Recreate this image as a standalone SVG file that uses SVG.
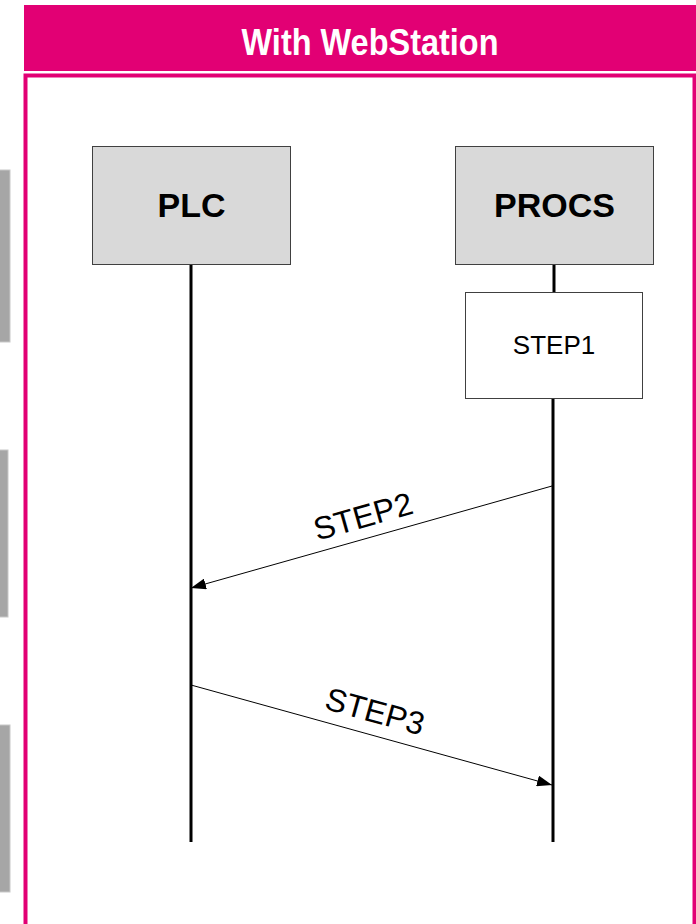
<svg xmlns="http://www.w3.org/2000/svg" width="696" height="924" viewBox="0 0 696 924">
<defs>
<style>
.tab{fill:#a6a6a6;stroke:#c8c8c8;stroke-width:1}
.actor{fill:#d9d9d9;stroke:#404040;stroke-width:1}
.atxt{font-family:"Liberation Sans",Arial,sans-serif;font-weight:bold;font-size:34px;fill:#000;text-anchor:middle}
.life{stroke:#000;stroke-width:3;fill:none}
.msg{stroke:#000;stroke-width:1;fill:none}
.lbl{font-family:"Liberation Sans",Arial,sans-serif;font-size:32px;fill:#000;text-anchor:middle}
</style>
<marker id="ah" viewBox="0 0 15 11" refX="15" refY="5.5" markerWidth="15" markerHeight="11" markerUnits="userSpaceOnUse" orient="auto">
<path d="M0,0 L15,5.5 L0,11 Z" fill="#000"/>
</marker>
</defs>
<rect x="0" y="0" width="696" height="924" fill="#fff"/>
<g id="tabs">
<rect class="tab" x="-1" y="170" width="11" height="172"/>
<rect class="tab" x="-1" y="450" width="9" height="167"/>
<rect class="tab" x="-1" y="725" width="11" height="167"/>
</g>
<g id="header">
<rect x="24" y="5" width="672" height="66" fill="#e20074"/>
<text x="370" y="55" font-family="'Liberation Sans',Arial,sans-serif" font-weight="bold" font-size="36" fill="#fff" text-anchor="middle" textLength="257" lengthAdjust="spacingAndGlyphs">With WebStation</text>
</g>
<rect id="frame" x="25.5" y="75.5" width="669" height="860" fill="none" stroke="#e20074" stroke-width="4"/>
<g id="plc">
<rect class="actor" x="92.5" y="146.5" width="198" height="118"/>
<text class="atxt" x="191.5" y="217">PLC</text>
</g>
<g id="procs">
<rect class="actor" x="455.5" y="146.5" width="198" height="118"/>
<text class="atxt" x="554.5" y="217">PROCS</text>
</g>
<g id="step1">
<rect x="465.5" y="292.5" width="177" height="106" fill="#fff" stroke="#404040" stroke-width="1"/>
<text x="554" y="354" font-family="'Liberation Sans',Arial,sans-serif" font-size="26" fill="#000" text-anchor="middle">STEP1</text>
</g>
<g id="connectors">
<line class="life" x1="191" y1="265" x2="191" y2="842"/>
<line class="life" x1="554" y1="265" x2="554" y2="292"/>
<line class="life" x1="553" y1="399" x2="553" y2="842"/>
<line class="msg" x1="552" y1="486" x2="191" y2="588" marker-end="url(#ah)"/>
<line class="msg" x1="191" y1="685" x2="552" y2="785" marker-end="url(#ah)"/>
<text class="lbl" transform="translate(366,527) rotate(-15.8)">STEP2</text>
<text class="lbl" transform="translate(372,722) rotate(15.5)">STEP3</text>
</g>
</svg>
